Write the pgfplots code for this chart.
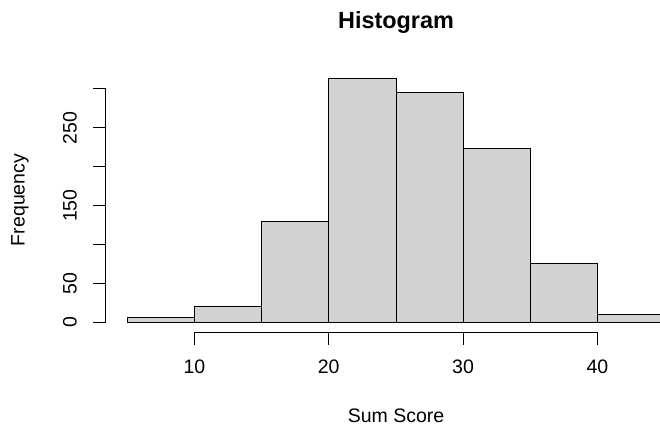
\documentclass[border=0pt]{standalone}
\usepackage{pgfplots}
\pgfplotsset{compat=1.18}
\usepackage{fontspec}
\setmainfont{Liberation Sans}
\definecolor{bargray}{RGB}{211,211,211}
\begin{document}
\begin{tikzpicture}[x=1pt,y=1pt]
\useasboundingbox (0,0) rectangle (660,431);
\clip (0,0) rectangle (660,431);
\begin{axis}[at={(105.8pt,98.9pt)}, anchor=south west, scale only axis,
  width=580.2pt, height=264.7pt, xmin=3.4, xmax=46.6, ymin=-12.6, ymax=327.6,
  axis lines=none, clip=false]
\addplot[ybar interval, fill=bargray, draw=black, line width=0.8pt] coordinates {
(5,6) (10,21) (15,130) (20,314) (25,295) (30,223) (35,76) (40,10) (45,10)};
\draw[line width=0.8pt] (axis cs:10,-12.6) -- (axis cs:40,-12.6);
\pgfplotsinvokeforeach{10,20,30,40}{
  \draw[line width=0.8pt] (axis cs:#1,-12.6) -- ++(0pt,-12.5pt);
  \node[font=\fontsize{19.5}{23}\selectfont, anchor=center] at ([yshift=-35pt]axis cs:#1,-12.6) {#1};
}
\draw[line width=0.8pt] (axis cs:3.4,0) -- (axis cs:3.4,300);
\pgfplotsinvokeforeach{0,50,100,150,200,250,300}{
  \draw[line width=0.8pt] (axis cs:3.4,#1) -- ++(-12.7pt,0pt);
}
\pgfplotsinvokeforeach{0,50,150,250}{
  \node[font=\fontsize{19.5}{23}\selectfont, rotate=90, anchor=center] at ([xshift=-36pt]axis cs:3.4,#1) {#1};
}
\end{axis}
\node[font=\fontsize{23.4}{28}\selectfont\bfseries, anchor=base] at (396,402) {Histogram};
\node[font=\fontsize{19.5}{23}\selectfont, anchor=center] at (396,15) {Sum Score};
\node[font=\fontsize{19.5}{23}\selectfont, rotate=90, anchor=center] at (20,231) {Frequency};
\end{tikzpicture}
\end{document}
